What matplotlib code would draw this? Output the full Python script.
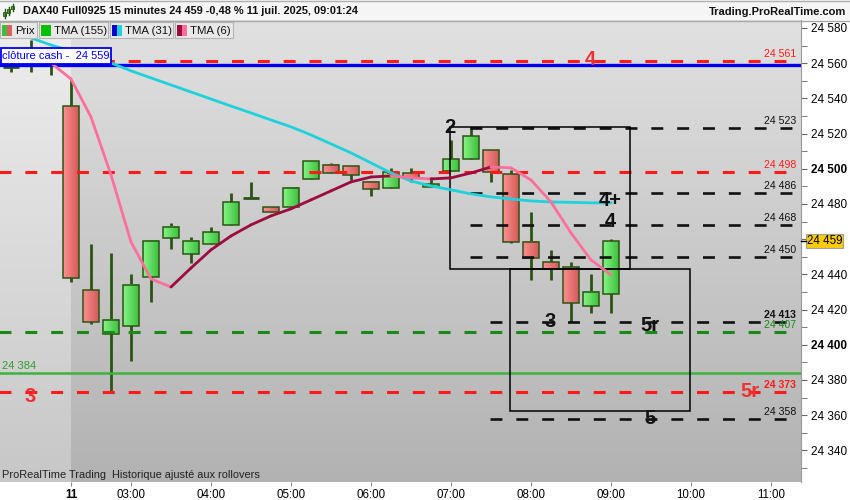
import matplotlib
matplotlib.use('Agg')
import matplotlib.pyplot as plt
import numpy as np
from matplotlib.patches import Rectangle
from matplotlib.colors import LinearSegmentedColormap

plt.rcParams['font.family'] = ['Liberation Sans', 'DejaVu Sans']
plt.rcParams['lines.scale_dashes'] = False

# 15 min candles, first 3 are from the previous session
opens  = [24558, 24561, 24560, 24535.7, 24431, 24406, 24410.7, 24438.5, 24460.7, 24451.6,
          24457.3, 24468.1, 24483.4, 24478.3, 24478.3, 24494.2, 24502.2, 24501.6, 24492.5, 24489,
          24497.6, 24489.7, 24498.8, 24505.6, 24510.7, 24497, 24458.4, 24447, 24444.2, 24422,
          24428.9]
highs  = [24562, 24573, 24569, 24550.5, 24457, 24452, 24440, 24459, 24469, 24461.3,
          24466.9, 24486.3, 24492.5, 24478.3, 24489.1, 24504.4, 24503.3, 24501.6, 24492.5, 24500.5,
          24500.5, 24495.3, 24516.4, 24523.8, 24510.7, 24499.3, 24475.5, 24453.9, 24447, 24440.2,
          24460.1]
lows   = [24555, 24555, 24553, 24435.7, 24412, 24373, 24391, 24424, 24454.4, 24446.5,
          24457, 24468, 24483.4, 24475.5, 24478.3, 24494.2, 24497.6, 24493.6, 24484.5, 24489,
          24492.5, 24489.7, 24498.8, 24505.6, 24492.5, 24458, 24436.8, 24436.8, 24413, 24418.1,
          24418.1]
closes = [24558, 24563, 24559, 24438, 24413, 24414, 24434, 24459, 24467, 24459,
          24464.1, 24481.1, 24483.4, 24475.5, 24489.1, 24504.4, 24497.6, 24496.5, 24488.5, 24498.2,
          24494.8, 24491.4, 24505.6, 24518.6, 24498.2, 24458.4, 24449.3, 24443.1, 24423.8, 24430,
          24459]

# TMA (31), from candle 1
tma31 = [24574.3, 24570.3, 24566.9, 24563.5, 24560.1, 24555.6, 24551.6, 24547.6, 24543.6, 24539.6,
         24535.6, 24531.7, 24527.7, 24523.8, 24519.2, 24514.1, 24509.0, 24503.3, 24497.6, 24493.0,
         24490.2, 24488.0, 24485.7, 24484.0, 24482.8, 24481.7, 24481.1, 24480.9, 24480.6, 24480.6]
# TMA (6), from candle 2
tma6 = [24560.1, 24551.0, 24529.4, 24496.5, 24458.4, 24437.4, 24432.8, 24443.6, 24453.9, 24461.8,
        24468.1, 24473.2, 24477.2, 24482.3, 24487.4, 24492.5, 24495.3, 24495.9, 24494.8, 24494.2,
        24494.8, 24497.6, 24501.0, 24500.5, 24493.6, 24481.1, 24463.5, 24448.2, 24439.7]
tma155 = 24384
cash_close = 24559
last_price = 24459

levels       = [24561, 24523, 24498, 24486, 24468, 24450, 24413, 24407, 24373, 24358]
level_labels = ['24 561', '24 523', '24 498', '24 486', '24 468', '24 450', '24 413', '24 407', '24 373', '24 358']
level_colors = ['#ff1a1a', '#111111', '#ff1a1a', '#111111', '#111111', '#111111', '#111111', '#178a17', '#ff1a1a', '#111111']
level_start  = [-0.6, 22.95, -0.6, 22.95, 22.95, 22.95, 23.95, -0.6, -0.6, 23.95]
level_bold   = [False, False, False, False, False, False, True, False, True, False]

# zones (time index, price)
zones = [(21.95, 30.95, 24443, 24523.5), (24.95, 33.95, 24362.4, 24443)]

notes = [('2', 21.95, 24523.2, '#111111'), ('4+', 29.95, 24481.7, '#111111'),
         ('4', 29.95, 24469.8, '#111111'), ('3', 26.95, 24413, '#111111'),
         ('5r', 31.95, 24411.2, '#111111'), ('5', 31.95, 24357.8, '#111111'),
         ('4', 28.95, 24561.8, '#f03030'), ('3', 0.95, 24370.3, '#f03030'),
         ('5r', 36.95, 24373.2, '#f03030')]

xtick_pos = [3, 6, 10, 14, 18, 22, 26, 30, 34, 38]
xtick_labels = ['11', '03:00', '04:00', '05:00', '06:00', '07:00', '08:00', '09:00', '10:00', '11:00']

W, H = 850, 500
fig = plt.figure(figsize=(8.5, 5), dpi=100)
fig.patch.set_facecolor('white')
ax = fig.add_axes([0, 18 / H, 801 / W, 462 / H])

x0, x1 = -0.55, 39.5
y0, y1 = 24322, 24584.5

# background
grad = np.linspace(0, 1, 256).reshape(-1, 1)
cm_left = LinearSegmentedColormap.from_list('l', ['#eeeeee', '#c7c7c7'])
cm_right = LinearSegmentedColormap.from_list('r', ['#e1e1e1', '#b2b2b2'])
ax.imshow(grad, extent=(x0, 3, y0, y1), cmap=cm_left, aspect='auto', zorder=0, origin='upper')
ax.imshow(grad, extent=(3, x1, y0, y1), cmap=cm_right, aspect='auto', zorder=0, origin='upper')

# candles
hgrad = np.linspace(0, 1, 32).reshape(1, -1)
cm_up = LinearSegmentedColormap.from_list('u', ['#86f486', '#3cc03c'])
cm_dn = LinearSegmentedColormap.from_list('d', ['#fa9090', '#d65a5a'])
edge = '#2b5414'
for i in range(len(opens)):
    o, h, l, c = opens[i], highs[i], lows[i], closes[i]
    ax.plot([i, i], [l, h], color=edge, lw=2, zorder=2, solid_capstyle='butt')
    lo, hi = min(o, c), max(o, c)
    if hi - lo < 0.8:
        ax.plot([i - 0.4, i + 0.4], [o, o], color=edge, lw=2, zorder=3, solid_capstyle='butt')
        continue
    cm = cm_up if c > o else cm_dn
    ax.imshow(hgrad, extent=(i - 0.4, i + 0.4, lo, hi), cmap=cm, aspect='auto', zorder=3)
    ax.add_patch(Rectangle((i - 0.4, lo), 0.8, hi - lo, fill=False, ec=edge, lw=1.1, zorder=3.1))

# horizontal levels
x_end = 39.2
for v, col, st in zip(levels, level_colors, level_start):
    lw = 2.2 if col != '#111111' else 1.9
    ax.plot([st, x_end], [v, v], color=col, lw=lw, dashes=(8.6, 10), zorder=4)
ax.axhline(cash_close, color='#0000ee', lw=2.4, zorder=4)
ax.axhline(tma155, color='#3cb43c', lw=1.8, zorder=4)

for v, lab, col, b in zip(levels, level_labels, level_colors, level_bold):
    ax.annotate(lab, (39.25, v), xytext=(0, 1.5), textcoords='offset points', ha='right', va='bottom',
                fontsize=7.6, color=col, fontweight='bold' if b else 'normal', zorder=6)

# zones
for a, b, lo, hi in zones:
    ax.add_patch(Rectangle((a, lo), b - a, hi - lo, fill=False, ec='black', lw=1.1, zorder=4.5))

# moving averages
ax.plot(range(1, 1 + len(tma31)), tma31, color='#1ed2dc', lw=2, zorder=5)
for k in range(len(tma6) - 1):
    col = '#9c0c3c' if tma6[k + 1] >= tma6[k] else '#ff6f9c'
    ax.plot([k + 2, k + 3], [tma6[k], tma6[k + 1]], color=col, lw=2, zorder=5, solid_capstyle='round')

for t, xi, v, col in notes:
    ax.text(xi, v, t, ha='center', va='center', fontsize=14.5, fontweight='bold', color=col, zorder=7)

ax.annotate('24 384', (-0.45, tma155), xytext=(0, 1.5), textcoords='offset points',
            color='#2ea02e', fontsize=8, ha='left', va='bottom', zorder=6)

ax.set_xlim(x0, x1)
ax.set_ylim(y0, y1)

yt = list(range(24340, 24581, 20))
ylab = ['' if t == 24460 else f'{t // 1000} {t % 1000:03d}' for t in yt]
ax.yaxis.tick_right()
ax.set_yticks(yt, ylab)
ax.set_yticks(range(24330, 24581, 10), minor=True)
ax.tick_params(axis='y', which='both', direction='out', length=4, color='#666666', labelsize=8.5, pad=3)
for lbl in ax.get_yticklabels():
    if lbl.get_text() in ('24 500', '24 400'):
        lbl.set_fontweight('bold')
ax.set_xticks(xtick_pos, xtick_labels)
ax.tick_params(axis='x', direction='out', length=3, color='#888888', labelsize=8.3, pad=2)
for lbl in ax.get_xticklabels():
    if lbl.get_text() == '11':
        lbl.set_fontweight('bold')
for s in ['top', 'left', 'bottom']:
    ax.spines[s].set_visible(False)
ax.spines['right'].set_color('#999999')

# overlay in pixel coordinates
ov = fig.add_axes([0, 0, 1, 1], zorder=10)
ov.set_xlim(0, W)
ov.set_ylim(H, 0)
ov.axis('off')

ov.add_patch(Rectangle((0, 0), W, 20, fc='#f5f5f5', ec='none'))
ov.plot([0, W], [20.5, 20.5], color='#a8a8a8', lw=1)
ov.plot([0, W], [0.5, 0.5], color='#b0b0b0', lw=1)
for cx, top, bot, btop, bbot in [(5, 9, 18, 12, 16), (9, 7, 15, 9, 13), (13, 4, 11, 6, 9)]:
    ov.plot([cx, cx], [top, bot], color='#2b5414', lw=1)
    ov.add_patch(Rectangle((cx - 1.5, btop), 3, bbot - btop, fc='#3cc03c', ec='#2b5414', lw=0.6))
ov.text(23, 11, 'DAX40 Full0925 15 minutes 24 459 -0,48 % 11 juil. 2025, 09:01:24',
        fontsize=7.9, fontweight='bold', va='center', ha='left', color='#111111')
ov.text(846, 12, 'Trading.ProRealTime.com', fontsize=8, fontweight='bold', va='center',
        ha='right', color='#111111')

legend = [('Prix', 0, 37, ['#3cc03c', '#e06060']),
          ('TMA (155)', 39, 108, ['#00c000', '#00c000']),
          ('TMA (31)', 110, 173, ['#0000cc', '#1ed2dc']),
          ('TMA (6)', 175, 233, ['#9c0c3c', '#ff6f9c'])]
for name, a, b, cols in legend:
    ov.add_patch(Rectangle((a, 22), b - a, 16, fc='#e8e8e8', ec='#b4b4b4', lw=0.8))
    ov.add_patch(Rectangle((a + 2, 24.5), 5, 11, fc=cols[0], ec='none'))
    ov.add_patch(Rectangle((a + 7, 24.5), 5, 11, fc=cols[1], ec='none'))
    ov.text(a + 15, 30.5, name, fontsize=8.2, va='center', ha='left', color='#111111')

ov.add_patch(Rectangle((0.5, 48), 110.5, 15.5, fc='white', ec='#0000ee', lw=1.3))
ov.text(2.5, 56, 'clôture cash -  24 559', fontsize=8, va='center', ha='left', color='#0000ee')

ov.plot([801, 806], [241, 241], color='black', lw=1)
ov.add_patch(Rectangle((806, 234), 37, 14, fc='#ffcc00', ec='#a0a0a0', lw=0.8))
ov.text(824.5, 241.5, '24 459', fontsize=8.3, va='center', ha='center', color='black')

ov.text(2, 475, 'ProRealTime Trading  Historique ajusté aux rollovers', fontsize=7.9,
        va='center', ha='left', color='#222222')

fig.savefig('out.png', dpi=100)
